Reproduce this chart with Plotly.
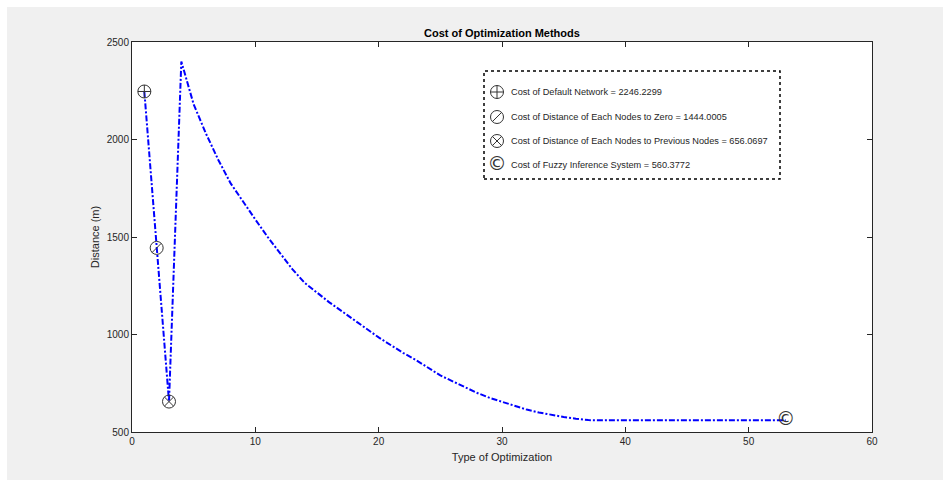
import plotly.graph_objects as go

W, H = 947, 482
ML, MR, MT, MB = 132, 75, 42, 50

# Data
x_vals = [1, 2, 3, 4, 5, 6, 7, 8, 9, 10, 11, 12, 13, 14, 15, 16, 17, 18, 19, 20,
          21, 22, 23, 24, 25, 26, 27, 28, 29, 30, 31, 32, 33, 34, 35, 36, 37, 38,
          39, 40, 41, 42, 43, 44, 45, 46, 47, 48, 49, 50, 51, 52, 53]
y_vals = [2246.2299, 1444.0005, 656.0697, 2400, 2180, 2030, 1895, 1775, 1680, 1590,
          1500, 1415, 1335, 1265, 1215, 1165, 1120, 1075, 1030, 985, 945, 905, 870,
          830, 790, 760, 730, 700, 675, 655, 635, 615, 600, 588, 577, 568, 561,
          560.4, 560.4, 560.4, 560.4, 560.4, 560.4, 560.4, 560.4, 560.4, 560.4,
          560.4, 560.4, 560.4, 560.4, 560.4, 560.3772]

marker_x = [1, 2, 3, 53]
marker_y = [2246.2299, 1444.0005, 656.0697, 560.3772]
marker_sym = ["⊕", "⊘", "⊗", "©"]
legend_labels = [
    "Cost of Default Network = 2246.2299",
    "Cost of Distance of Each Nodes to Zero = 1444.0005",
    "Cost of Distance of Each Nodes to Previous Nodes = 656.0697",
    "Cost of Fuzzy Inference System = 560.3772",
]

x_ticks = [0, 10, 20, 30, 40, 50, 60]
y_ticks = [500, 1000, 1500, 2000, 2500]

SYM_COLOR = "#333333"
MSIZE = 13
# glyph -> list of (plotly marker symbol, size) layers; None means draw as text
SYMBOL_LAYERS = {
    "⊕": [("circle-cross-open", MSIZE)],
    "⊘": [("circle-open", MSIZE), ("line-ne", MSIZE / 1.414)],
    "⊗": [("circle-x-open", MSIZE)],
    "©": None,
}
TEXT_FONT = dict(family="DejaVu Sans", size=19, color=SYM_COLOR)

pw = W - ML - MR
ph = H - MT - MB

fig = go.Figure()
fig.add_trace(go.Scatter(x=x_vals, y=y_vals, mode="lines",
                         line=dict(color="#0000ff", width=2, dash="6px,2px,2px,2px"),
                         showlegend=False, hoverinfo="skip"))


def add_symbol(glyph, x, y, xa="x", ya="y"):
    layers = SYMBOL_LAYERS[glyph]
    if layers is None:
        fig.add_trace(go.Scatter(x=[x], y=[y], mode="text", text=[glyph],
                                 textfont=TEXT_FONT, textposition="middle center",
                                 xaxis=xa, yaxis=ya, showlegend=False,
                                 hoverinfo="skip", cliponaxis=False))
        return
    for sym, size in layers:
        fig.add_trace(go.Scatter(x=[x], y=[y], mode="markers",
                                 marker=dict(symbol=sym, size=size, color=SYM_COLOR,
                                             line=dict(color=SYM_COLOR, width=1)),
                                 xaxis=xa, yaxis=ya, showlegend=False,
                                 hoverinfo="skip", cliponaxis=False))


for g, mx, my in zip(marker_sym, marker_x, marker_y):
    add_symbol(g, mx, my)

# overlay axis in pixel units for legend
row_y = [92, 117, 141, 165]
for g, ry in zip(marker_sym, row_y):
    add_symbol(g, 497, ry, "x2", "y2")

def px_x(p):
    return (p - ML) / pw

def px_y(p):
    return 1 - (p - MT) / ph

shapes = [
    dict(type="rect", xref="paper", yref="paper", layer="below",
         x0=px_x(7), x1=px_x(943), y0=px_y(480), y1=px_y(7),
         fillcolor="#f0f0f0", line=dict(width=0)),
    dict(type="rect", xref="paper", yref="paper", layer="below",
         x0=0, x1=1, y0=0, y1=1, fillcolor="white", line=dict(width=0)),
    dict(type="rect", xref="paper", yref="paper", layer="below",
         x0=px_x(484), x1=px_x(780), y0=px_y(179), y1=px_y(71),
         fillcolor="white", line=dict(color="black", width=1.5, dash="dot")),
]

annotations = []
for lab, ry in zip(legend_labels, row_y):
    annotations.append(dict(xref="paper", yref="paper", x=px_x(509), y=px_y(ry),
                            text=lab, showarrow=False, xanchor="left", yanchor="middle",
                            font=dict(family="Liberation Sans", size=9.2, color="#262626")))

fig.update_layout(
    width=W, height=H,
    margin=dict(l=ML, r=MR, t=MT, b=MB, pad=0),
    paper_bgcolor="white", plot_bgcolor="rgba(0,0,0,0)",
    font=dict(family="Liberation Sans", size=10, color="#262626"),
    title=dict(text="<b>Cost of Optimization Methods</b>", x=(ML + pw / 2) / W,
               xanchor="center", y=1 - 33 / H, yanchor="middle",
               font=dict(family="Liberation Sans", size=11, color="black")),
    shapes=shapes, annotations=annotations,
    xaxis=dict(range=[0, 60], tickvals=x_ticks, ticks="inside", ticklen=5,
               tickcolor="#262626", showline=True, linecolor="#262626", linewidth=1,
               mirror="ticks", showgrid=False, zeroline=False,
               title=dict(text="Type of Optimization", standoff=7,
                          font=dict(size=11, color="#262626"))),
    yaxis=dict(range=[500, 2500], tickvals=y_ticks, ticks="inside", ticklen=5,
               tickcolor="#262626", showline=True, linecolor="#262626", linewidth=1,
               mirror="ticks", showgrid=False, zeroline=False,
               title=dict(text="Distance (m)", standoff=4,
                          font=dict(size=11, color="#262626"))),
    xaxis2=dict(overlaying="x", range=[ML, W - MR], visible=False, fixedrange=True),
    yaxis2=dict(overlaying="y", range=[H - MB, MT], visible=False, fixedrange=True),
)

fig.write_html("out.html", config={"displayModeBar": False},
               post_script="document.body.style.margin='0px';")
